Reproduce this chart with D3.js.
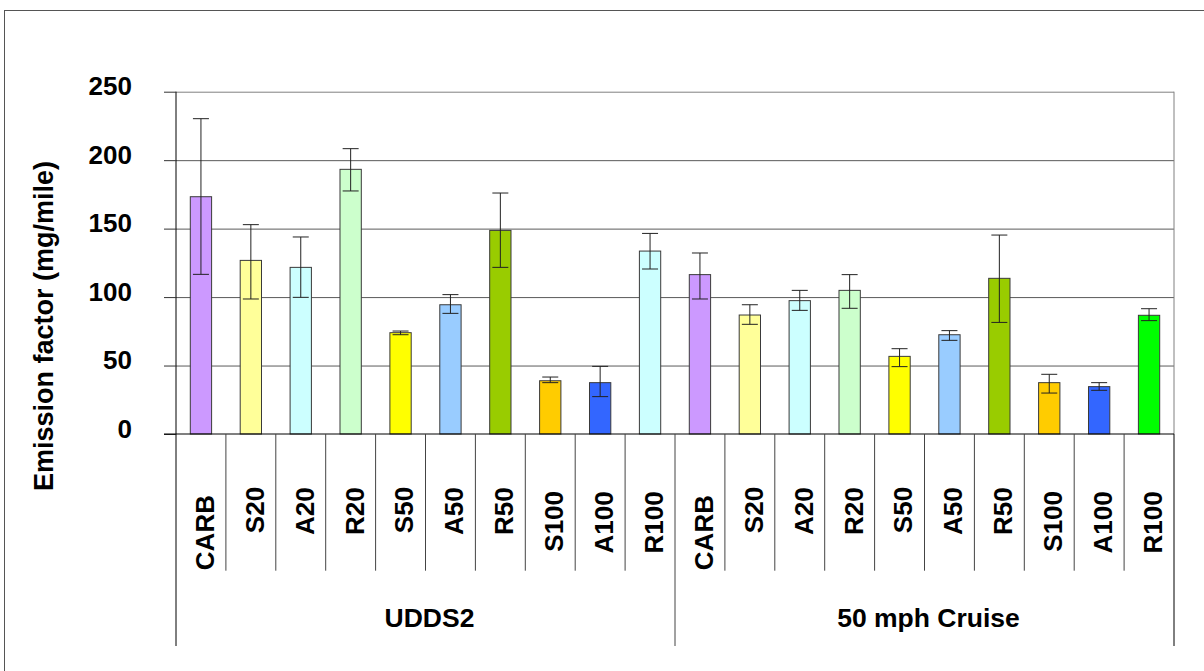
<!DOCTYPE html>
<html>
<head>
<meta charset="utf-8">
<script src="https://cdn.jsdelivr.net/npm/d3@7"></script>
<style>
  html, body { margin: 0; padding: 0; background: #fff; }
  svg { display: block; }
  text { font-family: "Liberation Sans", Arial, sans-serif; font-weight: bold; fill: #000; }
</style>
</head>
<body>
<svg id="chart" width="1204" height="671"></svg>
<script>
const categories = ["CARB", "S20", "A20", "R20", "S50", "A50", "R50", "S100", "A100", "R100"];
const groups = ["UDDS2", "50 mph Cruise"];
const yTicks = [0, 50, 100, 150, 200, 250];
const yTitle = "Emission factor (mg/mile)";

const udds2Values = [173.3, 126.8, 121.7, 193.3, 74.0, 94.4, 148.7, 38.9, 37.5, 133.6];
const udds2Upper  = [230.3, 152.9, 143.9, 208.4, 75.2, 101.8, 176.0, 41.6, 49.4, 146.5];
const udds2Lower  = [116.6, 98.6, 99.8, 177.5, 72.5, 88.1, 121.7, 37.5, 27.3, 120.5];

const cruiseValues = [116.4, 86.9, 97.4, 104.9, 56.7, 72.5, 113.7, 37.5, 34.6, 86.7];
const cruiseUpper  = [132.2, 94.4, 104.9, 116.4, 62.3, 75.5, 145.3, 43.6, 37.5, 91.5];
const cruiseLower  = [98.6, 80.1, 90.3, 91.8, 49.2, 68.4, 81.5, 29.9, 31.9, 82.8];

const udds2Colors  = ["#CC99FF", "#FFFF99", "#CCFFFF", "#CCFFCC", "#FFFF00", "#99CCFF", "#99CC00", "#FFCC00", "#3366FF", "#CCFFFF"];
const cruiseColors = ["#CC99FF", "#FFFF99", "#CCFFFF", "#CCFFCC", "#FFFF00", "#99CCFF", "#99CC00", "#FFCC00", "#3366FF", "#00FF00"];

// Build a flat table from the arrays
const table = [];
const seriesVals = [udds2Values, cruiseValues];
const seriesUp = [udds2Upper, cruiseUpper];
const seriesLo = [udds2Lower, cruiseLower];
const seriesCol = [udds2Colors, cruiseColors];
groups.forEach((g, gi) => {
  categories.forEach((c, ci) => {
    table.push({ key: g + "|" + c, group: g, cat: c, value: seriesVals[gi][ci], hi: seriesUp[gi][ci], lo: seriesLo[gi][ci], color: seriesCol[gi][ci] });
  });
});

const svg = d3.select("#chart");
const pLeft = 176, pRight = 1174, pTop = 91.7, pBottom = 434;
const catLineBottom = 570.7, groupLineBottom = 646;

const x = d3.scaleBand().domain(table.map(d => d.key)).range([pLeft, pRight]).paddingInner(0).paddingOuter(0);
const y = d3.scaleLinear().domain([0, 250]).range([pBottom, pTop]);
const barW = x.bandwidth() * 0.427;
const capW = 16;

// outer chart border
svg.append("rect").attr("x", 4.5).attr("y", 10.5).attr("width", 1300).attr("height", 800)
  .attr("fill", "none").attr("stroke", "#555").attr("stroke-width", 1);

// gridlines
svg.append("g").attr("transform", `translate(${pLeft},0)`)
  .call(d3.axisLeft(y).tickValues(yTicks.filter(v => v > 0)).tickSize(-(pRight - pLeft)).tickFormat(""))
  .call(g => g.select(".domain").remove())
  .call(g => g.selectAll("line").attr("stroke", d => d === 250 ? "#808080" : "#5a5a5a"));

// plot area right border
svg.append("line").attr("x1", pRight).attr("x2", pRight).attr("y1", y(250)).attr("y2", pBottom)
  .attr("stroke", "#808080");

// y axis with ticks and labels
const yAxis = svg.append("g").attr("transform", `translate(${pLeft},0)`)
  .call(d3.axisLeft(y).tickValues(yTicks).tickSize(12).tickPadding(32).tickFormat(d3.format("d")));
yAxis.select(".domain").attr("stroke", "#000").attr("d", `M0,${y(250)}V${groupLineBottom}`);
yAxis.selectAll(".tick line").attr("stroke", "#333");
yAxis.selectAll(".tick text").attr("font-size", 26).attr("font-family", '"Liberation Sans", Arial, sans-serif')
  .attr("font-weight", "bold").attr("dy", "0.12em");

// bars
svg.append("g").selectAll("rect").data(table).join("rect")
  .attr("x", d => x(d.key) + (x.bandwidth() - barW) / 2)
  .attr("y", d => y(d.value))
  .attr("width", barW)
  .attr("height", d => y(0) - y(d.value))
  .attr("fill", d => d.color)
  .attr("stroke", "#3a3a3a").attr("stroke-width", 1);

// error bars
const eb = svg.append("g").attr("stroke", "#222").attr("stroke-width", 1);
table.forEach(d => {
  const cx = x(d.key) + x.bandwidth() / 2;
  eb.append("line").attr("x1", cx).attr("x2", cx).attr("y1", y(d.hi)).attr("y2", y(d.lo));
  eb.append("line").attr("x1", cx - capW / 2).attr("x2", cx + capW / 2).attr("y1", y(d.hi)).attr("y2", y(d.hi));
  eb.append("line").attr("x1", cx - capW / 2).attr("x2", cx + capW / 2).attr("y1", y(d.lo)).attr("y2", y(d.lo));
});

// bottom axis line
svg.append("line").attr("x1", pLeft - 12).attr("x2", pRight).attr("y1", pBottom).attr("y2", pBottom)
  .attr("stroke", "#000").attr("stroke-width", 1);

// category separators
const sep = svg.append("g").attr("stroke", "#444").attr("stroke-width", 1);
table.forEach((d, i) => {
  if (i === 0) return;
  const xx = x(d.key);
  const isGroup = (i % categories.length) === 0;
  sep.append("line").attr("x1", xx).attr("x2", xx).attr("y1", pBottom).attr("y2", isGroup ? groupLineBottom : catLineBottom);
});
sep.append("line").attr("x1", pRight).attr("x2", pRight).attr("y1", pBottom).attr("y2", groupLineBottom).attr("stroke", "#000");

// category labels (rotated)
const catLabels = svg.append("g").selectAll("text").data(table).join("text")
  .text(d => d.cat)
  .attr("font-size", 26)
  .attr("text-anchor", "middle")
  .attr("dy", "0.36em");
catLabels.each(function(d) {
  const L = this.getComputedTextLength();
  const cy = 473.8 + 0.783 * L;
  const cx = x(d.key) + x.bandwidth() / 2 + 3.5;
  d3.select(this).attr("transform", `translate(${cx},${cy}) rotate(-90)`);
});

// group labels
groups.forEach(g => {
  const keys = table.filter(d => d.group === g).map(d => d.key);
  const x0 = x(keys[0]), x1 = x(keys[keys.length - 1]) + x.bandwidth();
  svg.append("text").text(g)
    .attr("x", (x0 + x1) / 2 + 4).attr("y", 626.5)
    .attr("font-size", 26.5).attr("text-anchor", "middle");
});

// y title
svg.append("text").text(yTitle)
  .attr("font-size", 27).attr("text-anchor", "middle").attr("dy", "0.36em")
  .attr("transform", `translate(43.5,326) rotate(-90)`);
</script>
</body>
</html>
